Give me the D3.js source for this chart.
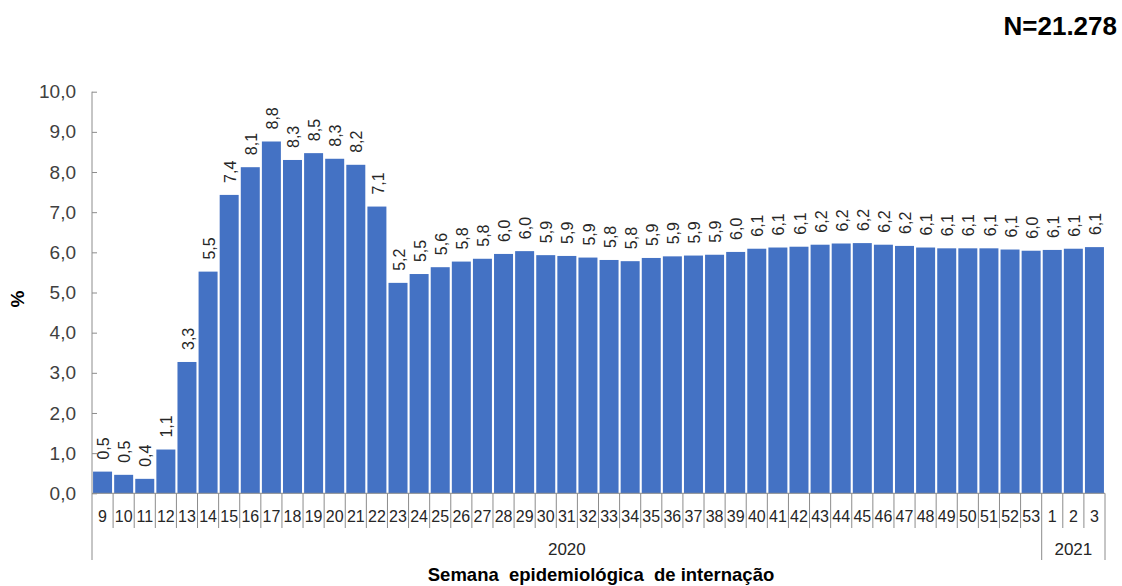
<!DOCTYPE html>
<html>
<head>
<meta charset="utf-8">
<script src="https://cdn.jsdelivr.net/npm/d3@7"></script>
<style>
  body { margin: 0; background: #fff; }
  svg { display: block; font-family: Arial, "Liberation Sans", sans-serif; }
</style>
</head>
<body>
<svg id="chart" width="1122" height="586"></svg>
<script>
// Epidemiological week of hospitalisation (2020 weeks 9–53, then 2021 weeks 1–3)
const weeks = ["9","10","11","12","13","14","15","16","17","18","19","20","21","22","23","24",
  "25","26","27","28","29","30","31","32","33","34","35","36","37","38","39","40","41","42",
  "43","44","45","46","47","48","49","50","51","52","53","1","2","3"];

// Year groups along the category axis and how many weeks each spans
const years = ["2020", "2021"];
const yearWeekCounts = [45, 3];

// Percentage per week
const percent = [0.54, 0.46, 0.36, 1.09, 3.27, 5.52, 7.43, 8.12, 8.76, 8.30, 8.47, 8.33, 8.18,
  7.14, 5.24, 5.46, 5.63, 5.77, 5.84, 5.96, 6.03, 5.93, 5.91, 5.87, 5.81, 5.78, 5.86, 5.90,
  5.92, 5.94, 6.01, 6.09, 6.12, 6.14, 6.19, 6.22, 6.23, 6.19, 6.16, 6.12, 6.10, 6.10, 6.10,
  6.07, 6.04, 6.06, 6.09, 6.13];

const yTicks = [0, 1, 2, 3, 4, 5, 6, 7, 8, 9, 10];

const totalLabel = "N=21.278";
const yTitle = "%";
const xTitle = "Semana  epidemiológica  de internação";

// Portuguese number formatting: decimal comma
const pt = d3.formatLocale({ decimal: ",", thousands: ".", grouping: [3], currency: ["R$", ""] });
const fmt1 = pt.format(".1f");

const svg = d3.select("#chart");
const plotLeft = 92, plotRight = 1105, plotTop = 91.7, plotBase = 493.3;

const x = d3.scaleBand()
  .domain(weeks.map((w, i) => i))
  .range([plotLeft, plotRight])
  .paddingInner(0.1)
  .paddingOuter(0.05);

const y = d3.scaleLinear().domain([0, 10]).range([plotBase, plotTop]);

const axisColor = "#8c8c8c";
const textColor = "#262626";

// Bars
svg.append("g")
  .selectAll("rect")
  .data(percent)
  .join("rect")
  .attr("x", (d, i) => x(i))
  .attr("y", d => y(d))
  .attr("width", x.bandwidth())
  .attr("height", d => y(0) - y(d))
  .attr("fill", "#4472C4");

// Value labels, rotated, above each bar
svg.append("g")
  .selectAll("text")
  .data(percent)
  .join("text")
  .attr("transform", (d, i) =>
    `translate(${x(i) + x.bandwidth() / 2 + 1},${y(d) - 12}) rotate(-90)`)
  .attr("dy", "0.35em")
  .attr("text-anchor", "start")
  .attr("font-size", 16)
  .attr("fill", textColor)
  .text(d => fmt1(d));

// Value axis (ticks point inward)
const yAxis = d3.axisLeft(y)
  .tickValues(yTicks)
  .tickFormat(fmt1)
  .tickSize(-5)
  .tickPadding(16);

const gy = svg.append("g")
  .attr("transform", `translate(${plotLeft},0)`)
  .call(yAxis);
gy.select(".domain").remove();
gy.selectAll(".tick line").attr("stroke", axisColor);
gy.selectAll(".tick text")
  .attr("font-size", 19)
  .attr("font-family", "Arial, 'Liberation Sans', sans-serif")
  .attr("fill", "#404040");

// Vertical axis line, running down through the category grouping area
svg.append("line")
  .attr("x1", plotLeft).attr("x2", plotLeft)
  .attr("y1", plotTop).attr("y2", 560)
  .attr("stroke", axisColor);

// Baseline
svg.append("line")
  .attr("x1", plotLeft).attr("x2", plotRight)
  .attr("y1", plotBase).attr("y2", plotBase)
  .attr("stroke", axisColor);

// Category axis: week numbers
const xAxis = d3.axisBottom(x)
  .tickFormat(i => weeks[i])
  .tickSize(0)
  .tickPadding(17);

const gx = svg.append("g")
  .attr("transform", `translate(0,${plotBase})`)
  .call(xAxis);
gx.select(".domain").remove();
gx.selectAll(".tick text")
  .attr("font-size", 16)
  .attr("font-family", "Arial, 'Liberation Sans', sans-serif")
  .attr("fill", textColor);

// Separators between weeks; longer ones at year boundaries
const step = x.step();
const yearBounds = [0];
yearWeekCounts.forEach(c => yearBounds.push(yearBounds[yearBounds.length - 1] + c));
const sepIdx = d3.range(1, weeks.length + 1);
svg.append("g")
  .selectAll("line")
  .data(sepIdx)
  .join("line")
  .attr("x1", i => plotLeft + i * step)
  .attr("x2", i => plotLeft + i * step)
  .attr("y1", plotBase)
  .attr("y2", i => yearBounds.includes(i) ? 560 : 528)
  .attr("stroke", axisColor);

// Year labels centred under their weeks
svg.append("g")
  .selectAll("text")
  .data(years)
  .join("text")
  .attr("x", (d, k) => plotLeft + (yearBounds[k] + yearBounds[k + 1]) / 2 * step)
  .attr("y", 555)
  .attr("text-anchor", "middle")
  .attr("font-size", 17)
  .attr("fill", textColor)
  .text(d => d);

// Axis titles
svg.append("text")
  .attr("x", 601)
  .attr("y", 581)
  .attr("text-anchor", "middle")
  .attr("font-size", 18.5)
  .attr("font-weight", "bold")
  .attr("fill", "#000")
  .style("white-space", "pre")
  .text(xTitle);

svg.append("text")
  .attr("transform", "translate(17,299) rotate(-90)")
  .attr("dy", "0.35em")
  .attr("text-anchor", "middle")
  .attr("font-size", 19)
  .attr("font-weight", "bold")
  .attr("fill", "#000")
  .text(yTitle);

// Sample size
svg.append("text")
  .attr("x", 1117)
  .attr("y", 35)
  .attr("text-anchor", "end")
  .attr("font-size", 26)
  .attr("font-weight", "bold")
  .attr("fill", "#000")
  .text(totalLabel);
</script>
</body>
</html>
